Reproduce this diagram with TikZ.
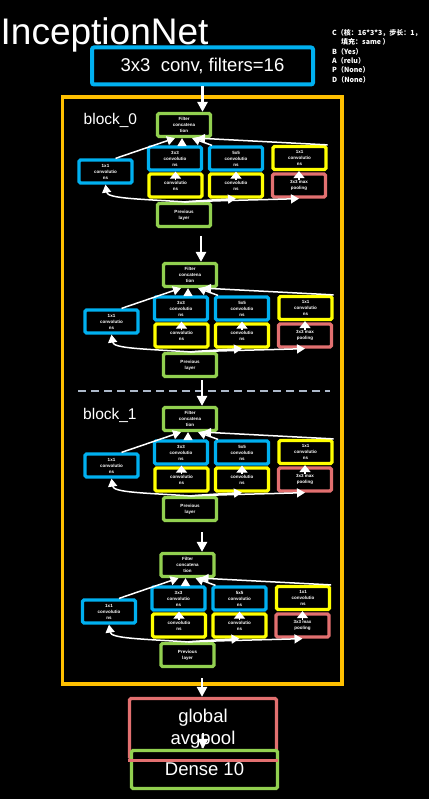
\documentclass[tikz,border=0pt]{standalone}
\usepackage{fontspec}
\setmainfont{Liberation Sans}
\newfontfamily\cjk{Noto Sans CJK SC}
\usetikzlibrary{arrows.meta}
\definecolor{convblue}{RGB}{0,176,240}
\definecolor{reduceyellow}{RGB}{255,255,0}
\definecolor{layergreen}{RGB}{146,208,80}
\definecolor{poolred}{RGB}{226,112,112}
\definecolor{blockorange}{RGB}{255,192,0}
\definecolor{sepgray}{RGB}{173,185,202}
\begin{document}
\begin{tikzpicture}[x=1pt,y=-1pt,
  unit/.style={draw, line width=3.2pt, rounded corners=1.5pt, fill=black, text=white,
    minimum width=53pt, minimum height=23pt, inner sep=0pt, align=center,
    font=\fontsize{4.5}{6}\selectfont\bfseries},
  flow/.style={white, line width=1.5pt, -{Triangle[width=9pt,length=8pt]}},
  lift/.style={white, line width=1.5pt, -{Triangle[width=11pt,length=7pt]}},
  bigflow/.style={white, line width=2.5pt, -{Triangle[width=10pt,length=10pt]}}]
\path[use as bounding box, fill=black] (0,0) rectangle (429,799);

\node[draw=blockorange, line width=3.5pt, minimum width=279.5pt, minimum height=587pt, inner sep=0pt] (block) at (202.25,390.5) {};
\draw[sepgray, line width=1.5pt, dash pattern=on 8pt off 5pt] (78,391) -- (330,391);

\node[draw=convblue, line width=4pt, rounded corners=2pt, fill=black, text=white, minimum width=221pt, minimum height=37pt, inner sep=0pt, font=\fontsize{18.5}{22}\selectfont] (conv) at (202.5,66) {3x3\ \ conv, filters=16};
\node[anchor=base west, inner sep=0pt, text=white, font=\fontsize{37}{37}\selectfont] (title) at (0.5,45) {InceptionNet};
\node[anchor=north west, inner sep=0pt, text=white, align=left, font=\cjk\bfseries\fontsize{7}{9.4}\selectfont] (note) at (332,29)
  {C（核：16*3*3，步长：1，\\\hspace*{9pt}填充：same ）\\B（Yes）\\A（relu）\\P（None）\\D（None）};

\node[anchor=base west, inner sep=0pt, text=white, font=\fontsize{15.5}{18}\selectfont] (lab0) at (83.5,124.5) {block\_0};
\node[anchor=base west, inner sep=0pt, text=white, font=\fontsize{15.5}{18}\selectfont] (lab1) at (83,419) {block\_1};

% the four inception modules
\foreach \m/\cx/\cy in {0/184/125, 1/190/275, 2/190/419, 3/187.5/565} {
  \begin{scope}[shift={(\cx,\cy)}]
    \node[unit, draw=layergreen] (c\m) at (0,0) {Filter\\concatena\\tion};
    \node[unit, draw=convblue] (b3\m) at (-9,33.5) {3x3\\convolutio\\ns};
    \node[unit, draw=convblue] (b5\m) at (52,33.5) {5x5\\convolutio\\ns};
    \node[unit, draw=reduceyellow] (p1\m) at (115.5,33) {1x1\\convolutio\\ns};
    \node[unit, draw=convblue] (b1\m) at (-78.5,46.5) {1x1\\convolutio\\ns};
    \node[unit, draw=reduceyellow] (r3\m) at (-8.5,60.5) {convolutio\\ns};
    \node[unit, draw=reduceyellow] (r5\m) at (52,60.5) {convolutio\\ns};
    \node[unit, draw=poolred] (mp\m) at (115,60.5) {3x3 max\\pooling};
    \node[unit, draw=layergreen] (pv\m) at (0,90) {Previous\\layer};
  \end{scope}
  \draw[flow] ([xshift=10pt]b1\m.north) -- ([xshift=-9pt]c\m.south);
  \draw[flow] ([xshift=7pt]b3\m.north) -- ([xshift=-2pt]c\m.south);
  \draw[flow] ([xshift=-24pt]b5\m.north) -- ([xshift=8pt]c\m.south);
  \draw[flow] (p1\m.north east) -- ([xshift=13pt]c\m.south);
  \draw[lift] ([yshift=-8pt]r3\m.north) -- (r3\m.north |- b3\m.south);
  \draw[lift] ([yshift=-8pt]r5\m.north) -- (r5\m.north |- b5\m.south);
  \draw[lift] ([yshift=-8pt]mp\m.north) -- (mp\m.north |- p1\m.south);
  \draw[flow] (pv\m.north) .. controls +(-45,-3) and +(2,14) .. (b1\m.south);
  \draw[flow] (pv\m.north) .. controls +(25,-2) and +(-15,1) .. (r5\m.south);
  \draw[flow] (pv\m.north) .. controls +(60,-2) and +(-30,1) .. (mp\m.south);
}

\coordinate (s1) at (201,236);
\coordinate (s2) at (202,380);
\coordinate (s3) at (202,532);
\coordinate (out) at (202,678);
\draw[bigflow] (conv.south) -- (conv.south |- c0.north);
\draw[bigflow] (s1) -- (s1 |- c1.north);
\draw[bigflow] (s2) -- (s2 |- c2.north);
\draw[bigflow] (s3) -- (s3 |- c3.north);

\node[draw=poolred, line width=3.3pt, rounded corners=1.5pt, fill=black, text=white, align=center, minimum width=147pt, minimum height=60pt, inner sep=0pt, font=\fontsize{18.5}{22}\selectfont] (gap) at (203,728.5) {global\\avgpool};
\node[draw=layergreen, line width=3.3pt, rounded corners=1.5pt, fill=black, text=white, minimum width=146pt, minimum height=38pt, inner sep=0pt, font=\fontsize{18.5}{22}\selectfont] (dense) at (204.5,769.5) {Dense 10};
\draw[poolred, line width=3.3pt] (gap.south west) -- (gap.south east);
\draw[bigflow] (out) -- (out |- gap.north);
\draw[bigflow] ([yshift=-4pt]gap.center) -- (gap.center |- dense.north);
\end{tikzpicture}
\end{document}
